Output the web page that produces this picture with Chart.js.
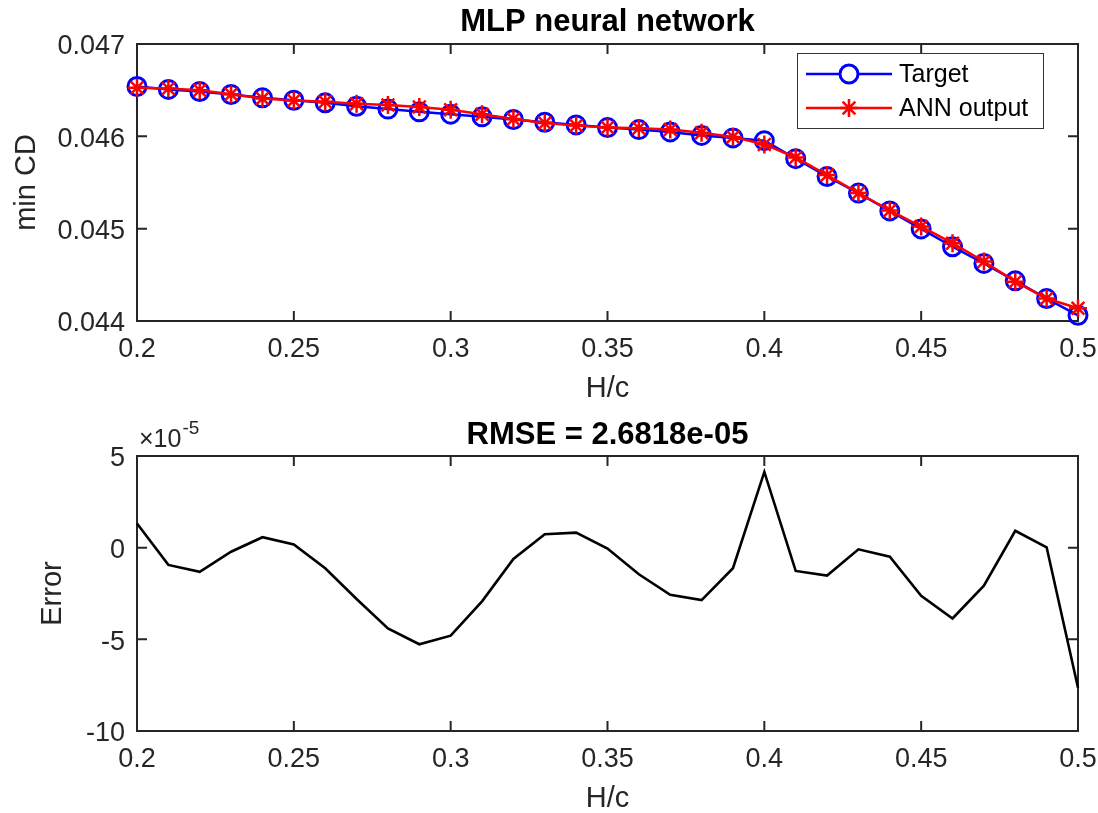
<!DOCTYPE html>
<html>
<head>
<meta charset="utf-8">
<title>MLP neural network</title>
<script src="https://cdn.jsdelivr.net/npm/chart.js@4.4.1/dist/chart.umd.min.js"></script>
<style>
    html, body { margin: 0; padding: 0; background: #fff; overflow: hidden; }
    .panel { position: absolute; left: 0; width: 1098px; height: 410px; }
    #top { top: 0; }
    #bottom { top: 410px; }
</style>
</head>
<body>
<div class="panel" id="top"><canvas id="cdChart"></canvas></div>
<div class="panel" id="bottom"><canvas id="errChart"></canvas></div>
<script>
// H/c values (x axis)
const hc = [0.20, 0.21, 0.22, 0.23, 0.24, 0.25, 0.26, 0.27, 0.28, 0.29, 0.30,
            0.31, 0.32, 0.33, 0.34, 0.35, 0.36, 0.37, 0.38, 0.39, 0.40,
            0.41, 0.42, 0.43, 0.44, 0.45, 0.46, 0.47, 0.48, 0.49, 0.50];

// min CD, target
const target = [0.046540, 0.046508, 0.046486, 0.046453, 0.046417, 0.046391, 0.046363, 0.046326,
                0.046295, 0.046265, 0.046240, 0.046211, 0.046182, 0.046152, 0.046124, 0.046095,
                0.046073, 0.046048, 0.046010, 0.045983, 0.045953, 0.045758, 0.045565, 0.045385,
                0.045192, 0.044997, 0.044804, 0.044624, 0.044435, 0.044243, 0.044062];

// min CD, ANN output
const annOutput = [0.046527, 0.046517, 0.046499, 0.046455, 0.046411, 0.046389, 0.046374, 0.046354,
                   0.046339, 0.046318, 0.046288, 0.046240, 0.046188, 0.046145, 0.046116, 0.046095,
                   0.046088, 0.046074, 0.046039, 0.045994, 0.045912, 0.045771, 0.045580, 0.045386,
                   0.045197, 0.045023, 0.044843, 0.044645, 0.044426, 0.044243, 0.044138];

// error, in units of 1e-5
const errorE5 = [1.32, -0.94, -1.32, -0.22, 0.57, 0.18, -1.12, -2.80, -4.40, -5.27, -4.80,
                 -2.93, -0.62, 0.73, 0.82, -0.05, -1.45, -2.57, -2.86, -1.12, 4.13,
                 -1.27, -1.52, -0.09, -0.49, -2.62, -3.86, -2.07, 0.92, 0.02, -7.64];

const hcTicks = [0.2, 0.25, 0.3, 0.35, 0.4, 0.45, 0.5];
const hcTickLabels = ["0.2", "0.25", "0.3", "0.35", "0.4", "0.45", "0.5"];
const cdTicks = [0.044, 0.045, 0.046, 0.047];
const cdTickLabels = ["0.044", "0.045", "0.046", "0.047"];
const errTicks = [-10, -5, 0, 5];
const errTickLabels = ["-10", "-5", "0", "5"];

const AXIS_COLOR = "#262626";
const FONT = "'Liberation Sans', Arial, Helvetica, sans-serif";
const TICK_LEN = 10;

// MATLAB-like box with inward ticks, title, legend and exponent label
const matlabPlugin = {
    id: "matlab",
    beforeDatasetsDraw(chart) {
        const { ctx, chartArea: a, scales } = chart;
        ctx.save();
        ctx.strokeStyle = AXIS_COLOR;
        ctx.lineWidth = 2;
        ctx.strokeRect(a.left, a.top, a.right - a.left, a.bottom - a.top);
        ctx.beginPath();
        scales.x.ticks.forEach((t) => {
            const px = scales.x.getPixelForValue(t.value);
            ctx.moveTo(px, a.bottom);
            ctx.lineTo(px, a.bottom - TICK_LEN);
            ctx.moveTo(px, a.top);
            ctx.lineTo(px, a.top + TICK_LEN);
        });
        scales.y.ticks.forEach((t) => {
            const py = scales.y.getPixelForValue(t.value);
            ctx.moveTo(a.left, py);
            ctx.lineTo(a.left + TICK_LEN, py);
            ctx.moveTo(a.right, py);
            ctx.lineTo(a.right - TICK_LEN, py);
        });
        ctx.stroke();
        ctx.restore();
    },
    afterDraw(chart, args, opts) {
        const { ctx, chartArea: a } = chart;
        ctx.save();
        ctx.fillStyle = "#000";
        ctx.textAlign = "center";
        ctx.textBaseline = "middle";
        ctx.font = `bold 31px ${FONT}`;
        ctx.fillText(opts.title, (a.left + a.right) / 2, opts.titleY);

        if (opts.exponent) {
            ctx.fillStyle = AXIS_COLOR;
            ctx.textAlign = "left";
            ctx.textBaseline = "alphabetic";
            ctx.font = `25px ${FONT}`;
            ctx.fillText("\u00d710", a.left + 2, a.top - 9);
            const w = ctx.measureText("\u00d710").width;
            ctx.font = `19px ${FONT}`;
            ctx.fillText("-5", a.left + 3 + w, a.top - 22);
        }

        if (opts.legend) {
            const lg = opts.legend;
            ctx.fillStyle = "#fff";
            ctx.fillRect(lg.x, lg.y, lg.w, lg.h);
            ctx.strokeStyle = "#333";
            ctx.lineWidth = 1;
            ctx.strokeRect(lg.x + 0.5, lg.y + 0.5, lg.w, lg.h);
            chart.data.datasets.forEach((ds, i) => {
                const y = lg.y + 21 + i * 34;
                ctx.strokeStyle = ds.borderColor;
                ctx.lineWidth = 2.5;
                ctx.beginPath();
                ctx.moveTo(lg.x + 9, y);
                ctx.lineTo(lg.x + 95, y);
                ctx.stroke();
                ctx.lineWidth = ds.pointBorderWidth;
                Chart.helpers.drawPoint(ctx, {
                    pointStyle: ds.pointStyle,
                    radius: ds.pointRadius,
                    borderWidth: ds.pointBorderWidth,
                    rotation: 0,
                }, lg.x + 52, y);
                ctx.fillStyle = "#000";
                ctx.font = `25px ${FONT}`;
                ctx.textAlign = "left";
                ctx.textBaseline = "middle";
                ctx.fillText(ds.label, lg.x + 102, y + 1);
            });
        }
        ctx.restore();
    },
};

function makeOptions(cfg) {
    return {
        responsive: true,
        maintainAspectRatio: false,
        animation: false,
        events: [],
        layout: { padding: { top: cfg.padTop, right: 20, left: 0, bottom: 0 } },
        plugins: {
            legend: { display: false },
            tooltip: { enabled: false },
            matlab: cfg.matlab,
        },
        scales: {
            x: {
                type: "linear",
                min: 0.2,
                max: 0.5,
                afterBuildTicks: (scale) => { scale.ticks = hcTicks.map((v) => ({ value: v })); },
                afterFit: (scale) => {
                    scale.height = 89;
                    scale.paddingLeft = 0;
                    scale.paddingRight = 0;
                },
                grid: { display: false, drawTicks: false },
                border: { display: false },
                ticks: {
                    color: AXIS_COLOR,
                    padding: 12,
                    maxRotation: 0,
                    autoSkip: false,
                    font: { family: FONT, size: 27, lineHeight: 1.2 },
                    callback: (v, i) => hcTickLabels[i],
                },
                title: {
                    display: true,
                    text: "H/c",
                    color: AXIS_COLOR,
                    font: { family: FONT, size: 29, lineHeight: 1.2 },
                    padding: { top: 0, bottom: 4 },
                },
            },
            y: {
                type: "linear",
                min: cfg.yMin,
                max: cfg.yMax,
                afterBuildTicks: (scale) => { scale.ticks = cfg.yTicks.map((v) => ({ value: v })); },
                afterFit: (scale) => {
                    scale.width = 137;
                    scale.paddingTop = 0;
                    scale.paddingBottom = 0;
                },
                grid: { display: false, drawTicks: false },
                border: { display: false },
                ticks: {
                    color: AXIS_COLOR,
                    padding: 12,
                    labelOffset: 3,
                    autoSkip: false,
                    font: { family: FONT, size: 27, lineHeight: 1.2 },
                    callback: (v, i) => cfg.yTickLabels[i],
                },
                title: {
                    display: true,
                    text: cfg.yTitle,
                    color: AXIS_COLOR,
                    font: { family: FONT, size: 29, lineHeight: 1.2 },
                    padding: { top: cfg.yTitlePad, bottom: 0 },
                },
            },
        },
    };
}

new Chart(document.getElementById("cdChart"), {
    type: "line",
    data: {
        datasets: [
            {
                label: "Target",
                data: hc.map((x, i) => ({ x, y: target[i] })),
                borderColor: "#0000ff",
                borderWidth: 2.5,
                pointStyle: "circle",
                pointRadius: 9,
                pointBorderWidth: 3,
                pointBorderColor: "#0000ff",
                pointBackgroundColor: "rgba(0,0,0,0)",
                tension: 0,
                clip: false,
                order: 2,
            },
            {
                label: "ANN output",
                data: hc.map((x, i) => ({ x, y: annOutput[i] })),
                borderColor: "#ff0000",
                borderWidth: 2.5,
                pointStyle: "star",
                pointRadius: 9,
                pointBorderWidth: 2.5,
                pointBorderColor: "#ff0000",
                pointBackgroundColor: "#ff0000",
                tension: 0,
                clip: false,
                order: 1,
            },
        ],
    },
    options: makeOptions({
        padTop: 44,
        yMin: 0.044,
        yMax: 0.047,
        yTicks: cdTicks,
        yTickLabels: cdTickLabels,
        yTitle: "min CD",
        yTitlePad: 10,
        matlab: {
            title: "MLP neural network",
            titleY: 22,
            legend: { x: 797, y: 53, w: 246, h: 75 },
        },
    }),
    plugins: [matlabPlugin],
});

new Chart(document.getElementById("errChart"), {
    type: "line",
    data: {
        datasets: [
            {
                label: "Error",
                data: hc.map((x, i) => ({ x, y: errorE5[i] })),
                borderColor: "#000000",
                borderWidth: 2.6,
                pointRadius: 0,
                tension: 0,
                clip: false,
            },
        ],
    },
    options: makeOptions({
        padTop: 46,
        yMin: -10,
        yMax: 5,
        yTicks: errTicks,
        yTickLabels: errTickLabels,
        yTitle: "Error",
        yTitlePad: 36,
        matlab: {
            title: "RMSE = 2.6818e-05",
            titleY: 25,
            exponent: true,
        },
    }),
    plugins: [matlabPlugin],
});
</script>
</body>
</html>
